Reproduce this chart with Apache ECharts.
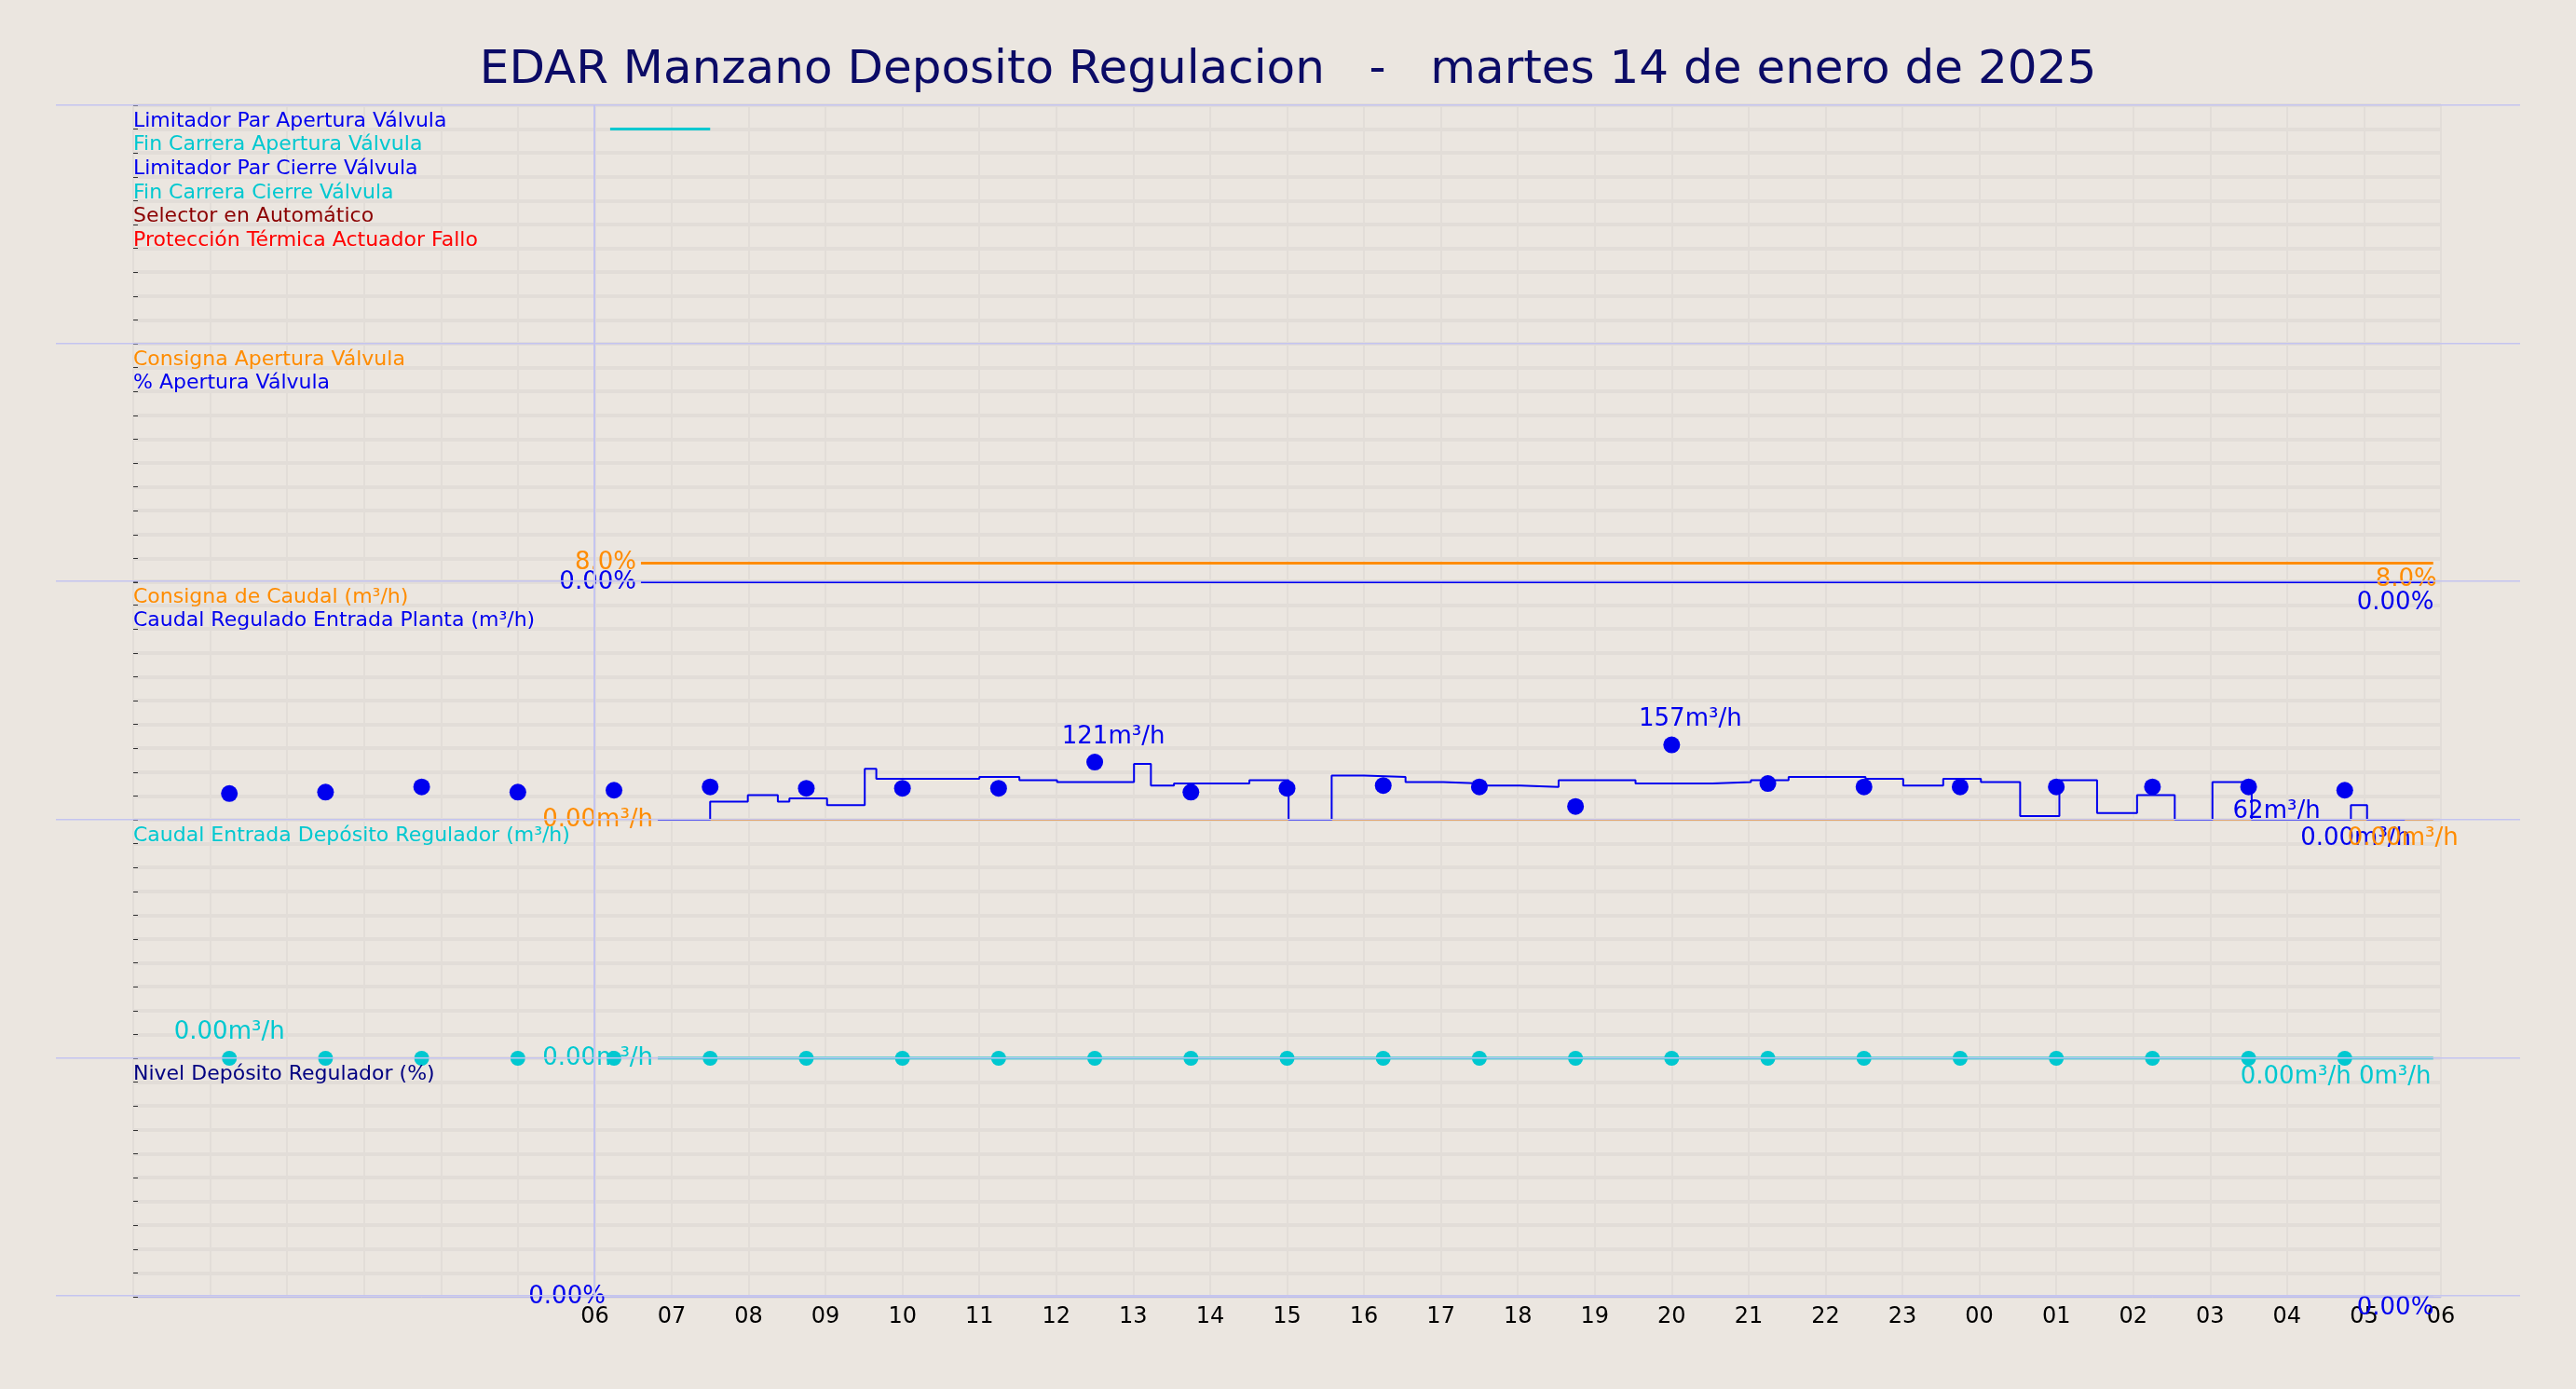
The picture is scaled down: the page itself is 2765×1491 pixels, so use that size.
<!DOCTYPE html><html><head><meta charset="utf-8">
<script src="https://cdn.jsdelivr.net/npm/echarts@6/dist/echarts.min.js"></script>
<style>html,body{margin:0;background:#ebe6e0}#c{width:2765px;height:1491px}</style></head><body><div id="c"></div>
<script>
const title='EDAR Manzano Deposito Regulacion   -   martes 14 de enero de 2025';
const stepHours=[6.82,7.5,7.99,8.38,8.53,9.02,9.51,9.66,11.0,11.52,12.01,13.01,13.23,13.53,14.51,15.02,15.58,16.0,16.54,17.03,17.52,18.03,18.53,19.53,20.53,21.03,21.52,22.52,23.01,23.53,24.02,24.53,25.04,25.53,26.05,26.54,27.03,27.54,28.83,29.04,29.53];
const stepVals=[0,38,52,38,45,31,107,86,90,83,79,117,72,76,83,0,93,90,79,76,72,69,83,76,79,83,90,86,72,86,79,8,83,14,52,0,79,0,31,0,0];
const dotHours=[1.25,2.5,3.75,5,6.25,7.5,8.75,10,11.25,12.5,13.75,15,16.25,17.5,18.75,20,21.25,22.5,23.75,25,26.25,27.5,28.75];
const dotVals=[55,58,69,58,62,69,66,66,66,121,58,66,72,69,28,157,76,69,69,69,69,69,62];
const dot2Vals=[0,0,0,0,0,0,0,0,0,0,0,0,0,0,0,0,0,0,0,0,0,0,0];
const consHours=[6.82,29.9];
const consCaudal=[0,0];
const aperturaHours=[6.6,29.9];
const consApertura=[8,8];
const pctApertura=[0,0];
const finCarrera=[[6.2,7.5],[8.1,8.1]];
const labels1=[['Limitador Par Apertura Válvula','#0000ee'],['Fin Carrera Apertura Válvula','#00c8d0'],['Limitador Par Cierre Válvula','#0000ee'],['Fin Carrera Cierre Válvula','#00c8d0'],['Selector en Automático','#8b0000'],['Protección Térmica Actuador Fallo','#ff0000']];
const labels2=[['Consigna Apertura Válvula','#ff8c00'],['% Apertura Válvula','#0000ee']];
const labels3=[['Consigna de Caudal (m³/h)','#ff8c00'],['Caudal Regulado Entrada Planta (m³/h)','#0000ee']];
const labels4=[['Caudal Entrada Depósito Regulador (m³/h)','#00c8d0']];
const labels5=[['Nivel Depósito Regulador (%)','#000080']];
const tops=[113,369,624,880,1136];const H=256;const L=143,R=145;
const maxes=[9,100,500,500,100];
const grids=tops.map(t=>({left:L,right:R,top:t,height:H}));
const pad=h=>String(h%24).padStart(2,'0');
const xAxes=tops.map((t,i)=>({gridIndex:i,type:'value',min:0,max:30,interval:1,
 axisLine:{show:i==4,lineStyle:{color:'#bbbbee'}},axisTick:{show:false},
 axisLabel:{show:i==4,fontSize:24,color:'#000',margin:10,formatter:v=>v>=6?pad(v):''},
 splitLine:{show:true,lineStyle:{color:'#e2ddd8',width:2}}}));
const yAxes=tops.map((t,i)=>({gridIndex:i,type:'value',min:0,max:maxes[i],interval:maxes[i]/10,
 axisLine:{show:false},axisTick:{show:true,inside:true,length:5,lineStyle:{color:'#333'}},axisLabel:{show:false},
 splitLine:{show:true,lineStyle:{color:'#e2ddd8',width:4}}}));
const z=(a,b)=>a.map((v,i)=>[v,b[i]]);
const lab={fontSize:26};
const ln={showSymbol:true,symbol:'circle',symbolSize:0.01,labelLayout:{hideOverlap:false}};
const first=(arr,fmt,color,off)=>arr.map((d,i)=>i==0?{value:d,label:{show:true,position:'left',formatter:fmt,color,...lab,offset:off}}:d);
const series=[
 {type:'line',xAxisIndex:0,yAxisIndex:0,data:z(finCarrera[0],finCarrera[1]),symbol:'none',lineStyle:{color:'#00c8d0',width:3}},
 {type:'line',...ln,xAxisIndex:1,yAxisIndex:1,data:first(z(aperturaHours,consApertura),'8.0%','#ff8c00',[0,-4]),lineStyle:{color:'#ff8c00',width:3},endLabel:{show:true,formatter:'8.0%',color:'#ff8c00',...lab,offset:[-70,18]}},
 {type:'line',...ln,xAxisIndex:1,yAxisIndex:1,data:first(z(aperturaHours,pctApertura),'0.00%','#0000ee',[0,-12]),lineStyle:{color:'#0000ee',width:2},endLabel:{show:true,formatter:'0.00%',color:'#0000ee',...lab,offset:[-90,22]}},
 {type:'line',...ln,xAxisIndex:2,yAxisIndex:2,data:first(z(consHours,consCaudal),'0.00m³/h','#ff8c00',[0,-14]),lineStyle:{color:'#ff8c00',width:2},endLabel:{show:true,formatter:'0.00m³/h',color:'#ff8c00',...lab,offset:[-100,20]}},
 {type:'line',xAxisIndex:2,yAxisIndex:2,step:'end',data:z(stepHours,stepVals),symbol:'none',lineStyle:{color:'#0000ee',width:2},endLabel:{show:true,formatter:'0.00m³/h',color:'#0000ee',...lab,offset:[-120,20]}},
 {type:'scatter',xAxisIndex:2,yAxisIndex:2,data:z(dotHours,dotVals).map((d,i)=>(d[1]==121||d[1]==157)?{value:d,label:{show:true,position:'top',formatter:d[1]+'m³/h',color:'#0000ee',...lab,offset:[20,0]}}:(i==21?{value:d,label:{show:true,position:'bottom',formatter:'62m³/h',color:'#0000ee',...lab,offset:[30,0]}}:d)),symbolSize:18,itemStyle:{color:'#0000ee',opacity:1}},
 {type:'line',...ln,xAxisIndex:3,yAxisIndex:3,data:first(z(consHours,[0,0]),'0.00m³/h','#00c8d0',[0,-14]),lineStyle:{color:'#00c8d0',width:3},endLabel:{show:true,formatter:'0.00m³/h 0m³/h',color:'#00c8d0',...lab,offset:[-215,20]}},
 {type:'scatter',xAxisIndex:3,yAxisIndex:3,data:z(dotHours,dot2Vals).map((d,i)=>i==0?{value:d,label:{show:true,position:'top',formatter:'0.00m³/h',color:'#00c8d0',...lab,offset:[0,-2]}}:d),symbolSize:16,itemStyle:{color:'#00c8d0',opacity:1}},
 {type:'line',...ln,xAxisIndex:4,yAxisIndex:4,data:first([[6.2,0],[29.9,0]],'0.00%','#0000ee',[0,-14]),lineStyle:{color:'#bbbbee',width:1},endLabel:{show:true,formatter:'0.00%',color:'#0000ee',...lab,offset:[-90,12]}}
];
const gtext=[];
[labels1,labels2,labels3,labels4,labels5].forEach((ls,i)=>ls.forEach((l,j)=>gtext.push({type:'text',left:L,top:tops[i]+6+j*25.6,z:10,style:{text:l[0],fill:l[1],font:'22px "DejaVu Sans"'}})));
tops.concat([1391]).forEach(t=>gtext.push({type:'rect',z:5,shape:{x:60,y:t-1,width:2645,height:1.5},style:{fill:'#c4c4f0'},silent:true}));
gtext.push({type:'rect',z:5,shape:{x:637,y:113,width:2,height:1278},style:{fill:'#c4c4f0'}});
const ch=echarts.init(document.getElementById('c'));
ch.setOption({backgroundColor:'#ebe6e0',animation:false,textStyle:{fontFamily:'DejaVu Sans'},
 title:{text:title,left:'center',top:46,textStyle:{fontSize:50,fontWeight:'normal',color:'#0b0b66'}},
 grid:grids,xAxis:xAxes,yAxis:yAxes,series,graphic:gtext});
</script></body></html>
